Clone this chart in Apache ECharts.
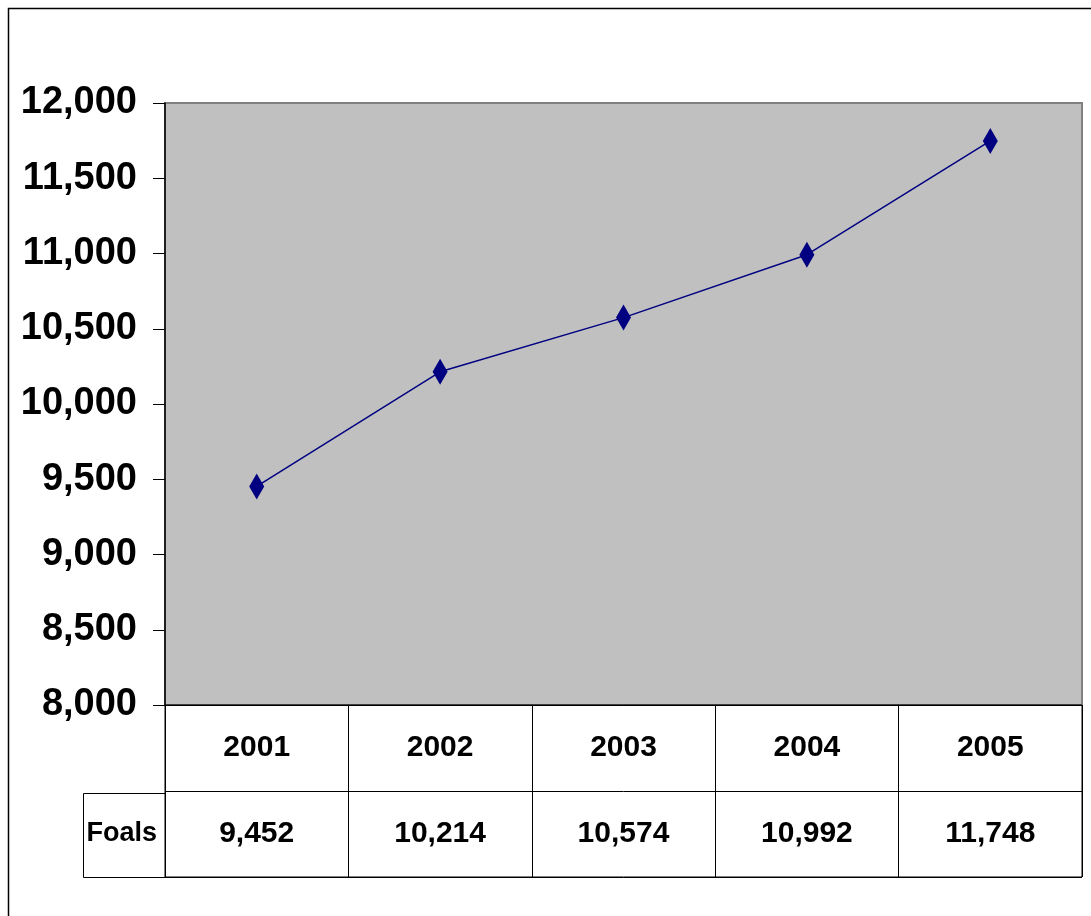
<!DOCTYPE html>
<html>
<head>
<meta charset="utf-8">
<script src="https://cdn.jsdelivr.net/npm/echarts@6/dist/echarts.min.js"></script>
<style>
html,body{margin:0;padding:0;background:#fff;}
#chart{width:1091px;height:916px;}
</style>
</head>
<body>
<div id="chart"></div>
<script>
const years = ['2001', '2002', '2003', '2004', '2005'];
const foals = [9452, 10214, 10574, 10992, 11748];
const seriesName = 'Foals';
const yMin = 8000;
const yMax = 12000;
const yStep = 500;
const tableRows = ['Foals', 'Year'];

const FONT = "'Liberation Sans Narrow', 'Arial Narrow', 'Liberation Sans', Arial, sans-serif";
const fmt = v => Number(v).toLocaleString('en-US');

const chart = echarts.init(document.getElementById('chart'));
chart.setOption({
  backgroundColor: '#ffffff',
  animation: false,
  grid: [
    { left: 165, top: 103, right: 9, bottom: 211, show: true, backgroundColor: '#C0C0C0', borderColor: '#808080', borderWidth: 2 },
    { left: 165, top: 705, right: 9, bottom: 39, show: true, backgroundColor: 'transparent', borderColor: '#000', borderWidth: 1 }
  ],
  xAxis: [
    { type: 'category', gridIndex: 0, data: years, boundaryGap: true,
      axisLine: { show: true, lineStyle: { color: '#000', width: 1 } },
      axisTick: { show: false }, axisLabel: { show: false }, splitLine: { show: false } },
    { type: 'category', gridIndex: 1, data: years, boundaryGap: true,
      axisLine: { show: false }, axisTick: { show: false }, axisLabel: { show: false },
      splitLine: { show: true, lineStyle: { color: '#000', width: 1 } } }
  ],
  yAxis: [
    { type: 'value', gridIndex: 0, min: yMin, max: yMax, interval: yStep,
      axisLine: { show: true, lineStyle: { color: '#000', width: 1.5 } },
      axisTick: { show: true, length: 12, lineStyle: { color: '#000', width: 1 } },
      splitLine: { show: false },
      axisLabel: { show: true, margin: 28, color: '#000', fontFamily: FONT, fontWeight: 'bold', fontSize: 38,
        formatter: v => fmt(v) } },
    { type: 'category', gridIndex: 1, data: tableRows, boundaryGap: true,
      axisLine: { show: false }, axisTick: { show: false },
      splitLine: { show: true, lineStyle: { color: '#000', width: 1 } },
      axisLabel: { show: true, margin: 8, color: '#000', fontFamily: FONT, fontWeight: 'bold', fontSize: 27,
        formatter: v => (v === 'Foals' ? seriesName : '') } }
  ],
  series: [
    { type: 'line', name: seriesName, xAxisIndex: 0, yAxisIndex: 0, data: foals,
      lineStyle: { color: '#000080', width: 1.5 },
      itemStyle: { color: '#000080' },
      symbol: 'diamond', symbolSize: [15, 26], showSymbol: true },
    { type: 'scatter', xAxisIndex: 1, yAxisIndex: 1, symbolSize: 0, silent: true,
      itemStyle: { opacity: 1 },
      data: years.map((y, i) => [i, 1]),
      label: { show: true, position: 'inside', color: '#000', opacity: 1, fontFamily: FONT, fontWeight: 'bold', fontSize: 30,
        formatter: p => years[p.dataIndex] } },
    { type: 'scatter', xAxisIndex: 1, yAxisIndex: 1, symbolSize: 0, silent: true,
      itemStyle: { opacity: 1 },
      data: foals.map((v, i) => [i, 0]),
      label: { show: true, position: 'inside', color: '#000', opacity: 1, fontFamily: FONT, fontWeight: 'bold', fontSize: 30,
        formatter: p => fmt(foals[p.dataIndex]) } }
  ],
  graphic: [
    { type: 'rect', silent: true, shape: { x: 8.5, y: 8.5, width: 1200, height: 1000 },
      style: { fill: 'none', stroke: '#000', lineWidth: 1.5 } },
    { type: 'polyline', silent: true, shape: { points: [[165, 793.5], [83.5, 793.5], [83.5, 877.5], [165, 877.5]] },
      style: { fill: 'none', stroke: '#000', lineWidth: 1 } }
  ]
});
</script>
</body>
</html>
